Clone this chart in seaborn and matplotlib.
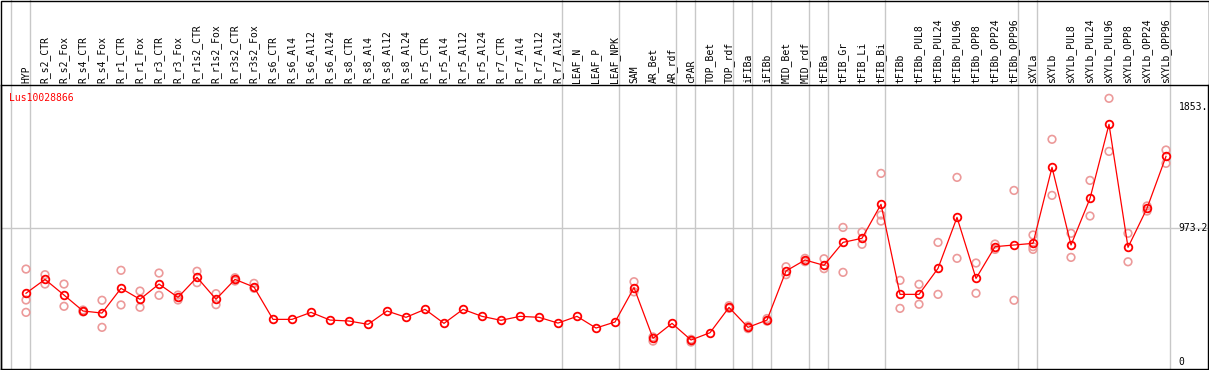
import matplotlib
matplotlib.use("Agg")
import matplotlib.pyplot as plt
import matplotlib.transforms as mtransforms
from matplotlib.patches import Rectangle
import numpy as np
import pandas as pd
import seaborn as sns

# Sample names (x axis, drawn vertically on top)
categories = [
    "HYP", "R_s2_CTR", "R_s2_Fox", "R_s4_CTR", "R_s4_Fox", "R_r1_CTR", "R_r1_Fox",
    "R_r3_CTR", "R_r3_Fox", "R_r1s2_CTR", "R_r1s2_Fox", "R_r3s2_CTR", "R_r3s2_Fox",
    "R_s6_CTR", "R_s6_Al4", "R_s6_Al12", "R_s6_Al24", "R_s8_CTR", "R_s8_Al4",
    "R_s8_Al12", "R_s8_Al24", "R_r5_CTR", "R_r5_Al4", "R_r5_Al12", "R_r5_Al24",
    "R_r7_CTR", "R_r7_Al4", "R_r7_Al12", "R_r7_Al24", "LEAF_N", "LEAF_P", "LEAF_NPK",
    "SAM", "AR_Bet", "AR_rdf", "cPAR", "TOP_Bet", "TOP_rdf", "iFIBa", "iFIBb",
    "MID_Bet", "MID_rdf", "tFIBa", "tFIB_Gr", "tFIB_Li", "tFIB_Bi", "tFIBb",
    "tFIBb_PUL8", "tFIBb_PUL24", "tFIBb_PUL96", "tFIBb_OPP8", "tFIBb_OPP24",
    "tFIBb_OPP96", "sXYLa", "sXYLb", "sXYLb_PUL8", "sXYLb_PUL24", "sXYLb_PUL96",
    "sXYLb_OPP8", "sXYLb_OPP24", "sXYLb_OPP96",
]

# mean expression per sample
means = [
    500, 601, 487, 371, 356, 536, 456, 567, 470, 616, 456, 601, 545,
    310, 310, 361, 305, 298, 274, 371, 325, 383, 281, 383, 332,
    303, 332, 325, 283, 332, 247, 291,
    541, 172, 281, 160, 213, 397, 252, 305, 662, 742,
    703, 870, 900, 1147, 492, 492, 681, 1052, 608, 839, 851,
    863, 1416, 851, 1190, 1729, 834, 1118, 1496,
]

# individual replicates per sample (empty = single value)
replicates = [
    [676, 451, 361], [635, 567], [567, 405], [378, 365], [449, 252], [667, 415],
    [516, 398], [647, 485], [487, 451], [660, 577], [497, 417], [613, 589], [572, 536],
    [], [], [], [], [], [], [], [], [], [], [], [], [], [], [], [], [], [], [],
    [584, 510], [182, 152], [], [165, 145], [], [410, 390], [262, 243], [316, 297],
    [693, 635], [754, 730], [751, 679], [979, 652], [945, 856], [1372, 1069, 1025],
    [594, 390], [565, 420], [870, 492], [1343, 754], [720, 500], [858, 819],
    [1248, 449], [924, 839, 819], [1620, 1212], [936, 761], [1321, 1062],
    [1918, 1532], [936, 729], [1135, 1098], [1542, 1445],
]

# group separators come right after these sample indices
group_ends = [-1, 0, 28, 31, 34, 35, 37, 38, 39, 41, 42, 45, 52, 53, 60]

y_ticks = [0, 973.2, 1853]
y_tick_labels = ["0", "973.2", "1853."]
gene = "Lus10028866"

mean_df = pd.DataFrame({"pos": np.arange(len(categories)), "value": means})
rep_df = pd.DataFrame(
    [(i, v) for i, reps in enumerate(replicates) for v in reps],
    columns=["pos", "value"],
)

W, H = 1209, 370
fig = plt.figure(figsize=(W / 100, H / 100), dpi=100)
# plot area: px 1..1208 horizontally, 85..369 vertically
ax = fig.add_axes([1 / W, 1 / H, 1207 / W, 284 / H])
ax.set_xlim(-1.316, 62.21)
ax.set_ylim(-51, 2015)

mono = "DejaVu Sans Mono"
red = "#ff0000"
pink = "#ec9a9a"
grey = "#c8c8c8"

# grey guides
ax.axhline(973.2, color=grey, lw=1, zorder=0)
blend = mtransforms.blended_transform_factory(ax.transData, ax.transAxes)
for g in group_ends:
    ax.plot([g + 0.21, g + 0.21], [0, 1.31], transform=blend, color=grey,
            lw=1, clip_on=False, zorder=0)

# replicates then means
sns.scatterplot(data=rep_df, x="pos", y="value", ax=ax, marker="o",
                facecolor="none", edgecolor=pink, linewidth=1.2, s=30, zorder=2,
                legend=False)
sns.lineplot(data=mean_df, x="pos", y="value", ax=ax, color=red, lw=0.9,
             marker="o", markersize=5.5, markerfacecolor="none",
             markeredgecolor=red, markeredgewidth=1.3, estimator=None, zorder=3)

# sample labels on top
for i, name in enumerate(categories):
    ax.text(i, 1.007, name, transform=blend, rotation=90, ha="center",
            va="bottom", fontsize=7, family=mono, color="black", clip_on=False)

# value labels at right
yblend = mtransforms.blended_transform_factory(ax.transAxes, ax.transData)
for v, lab in zip(y_ticks, y_tick_labels):
    ax.text(0.9756, v, lab, transform=yblend, ha="left", va="center",
            fontsize=7, family=mono, color="black")

ax.text(8 / 1207, 1 - 13 / 284, gene, transform=ax.transAxes, ha="left",
        va="center", fontsize=7, family=mono, color=red)

ax.set_xticks([])
ax.set_yticks([])
ax.set_xlabel("")
ax.set_ylabel("")
for s in ax.spines.values():
    s.set_color("black")
    s.set_linewidth(1)

# outer frame of the whole picture
fig.patches.append(Rectangle((0.5 / W, 0.5 / H), 1 - 1 / W, 1 - 1 / H,
                             transform=fig.transFigure, fill=False,
                             edgecolor="black", lw=1))

plt.savefig("out.png", dpi=100)
